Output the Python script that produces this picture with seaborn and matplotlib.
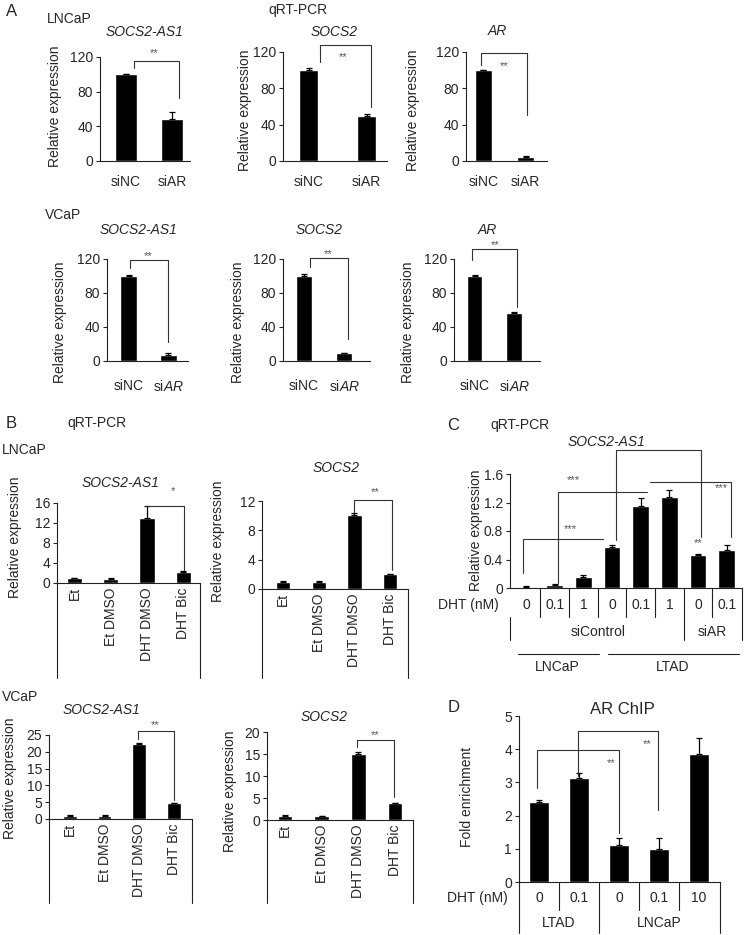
import numpy as np
import pandas as pd
import matplotlib
matplotlib.use("Agg")
import matplotlib.pyplot as plt
from matplotlib.transforms import Bbox, TransformedBbox
import seaborn as sns

W, H = 745, 935
sns.set_style("ticks")
plt.rcParams['font.family'] = ['Liberation Sans', 'DejaVu Sans']
plt.rcParams['mathtext.fontset'] = 'custom'
plt.rcParams['mathtext.rm'] = 'Liberation Sans'
plt.rcParams['mathtext.it'] = 'Liberation Sans:italic'

# ---------------- data ----------------
a_cats = ['siNC', 'siAR']
a_cats_it = ['siNC', r'si$\mathit{AR}$']
a_lncap_socs2as1 = [100, 49];  a_lncap_socs2as1_err = [0.5, 7]
a_lncap_socs2 = [100, 50];     a_lncap_socs2_err = [2.5, 1.5]
a_lncap_ar = [100, 4.5];       a_lncap_ar_err = [0.5, 1]
a_vcap_socs2as1 = [100, 7];    a_vcap_socs2as1_err = [1.5, 2]
a_vcap_socs2 = [100, 9];       a_vcap_socs2_err = [2.5, 1]
a_vcap_ar = [100, 56];         a_vcap_ar_err = [1.5, 1.5]

b_cats = ['Et', 'Et DMSO', 'DHT DMSO', 'DHT Bic']
b_lncap_socs2as1 = [1.0, 0.9, 13.0, 2.3];   b_lncap_socs2as1_err = [0.1, 0.1, 2.4, 0.1]
b_lncap_socs2 = [1.0, 1.0, 10.1, 2.0];      b_lncap_socs2_err = [0.1, 0.1, 0.25, 0.05]
b_vcap_socs2as1 = [1.0, 0.8, 22.3, 4.7];    b_vcap_socs2as1_err = [0.1, 0.3, 0.2, 0.2]
b_vcap_socs2 = [1.0, 0.9, 15.0, 3.8];       b_vcap_socs2_err = [0.1, 0.1, 0.5, 0.1]

c_ids = ['c1', 'c2', 'c3', 'c4', 'c5', 'c6', 'c7', 'c8']
c_dht = ['0', '0.1', '1', '0', '0.1', '1', '0', '0.1']
c_vals = [0.02, 0.04, 0.16, 0.57, 1.15, 1.28, 0.47, 0.53]
c_errs = [0.01, 0.01, 0.02, 0.03, 0.12, 0.10, 0.01, 0.08]

d_ids = ['d1', 'd2', 'd3', 'd4', 'd5']
d_dht = ['0', '0.1', '0', '0.1', '10']
d_vals = [2.4, 3.12, 1.1, 1.0, 3.85]
d_errs = [0.07, 0.15, 0.22, 0.33, 0.48]

fig = plt.figure(figsize=(W / 100, H / 100), dpi=100)
FS = 10
LC = '#222222'
SFS = 8


def add_ax(l, t, r, b):
    return fig.add_axes([l / W, 1 - b / H, (r - l) / W, (b - t) / H])


def ftext(x, y, s, **kw):
    kw.setdefault('fontsize', FS)
    kw.setdefault('ha', 'center')
    kw.setdefault('va', 'center')
    fig.text(x / W, 1 - y / H, s, **kw)


def yfrac(ax, p):
    pos = ax.get_position()
    bot = (1 - pos.y0) * H
    top = (1 - pos.y1) * H
    return (bot - p) / (bot - top)


def bars(ax, cats, vals, errs, width, xlim, ylim, yticks, ticklabels=None):
    df = pd.DataFrame({'cat': cats, 'val': vals})
    sns.barplot(data=df, x='cat', y='val', order=cats, color='black',
                saturation=1, width=width, errorbar=None, ax=ax)
    x = np.arange(len(cats))
    ax.errorbar(x, vals, yerr=[np.zeros(len(vals)), errs], fmt='none',
                ecolor='black', elinewidth=0.9, capsize=2.2, capthick=0.9)
    ax.set_xlim(*xlim)
    ax.set_ylim(*ylim)
    ax.set_yticks(yticks)
    ax.set_xlabel('')
    ax.set_ylabel('')
    sns.despine(ax=ax)
    for s in ['left', 'bottom']:
        ax.spines[s].set_linewidth(0.8)
        ax.spines[s].set_color(LC)
    ax.tick_params(axis='y', labelsize=FS, length=3, width=0.8, direction='out', pad=2)
    ax.tick_params(axis='x', length=0)
    ax.set_yticklabels([('%g' % t) for t in yticks])
    if ticklabels is not None:
        ax.set_xticks(x)
        ax.set_xticklabels(ticklabels, fontsize=FS)
    else:
        ax.set_xticks([])
    return ax


def bracket(ax, x1, x2, y, y1=None, y2=None, star=None, sx=None, sy=None):
    xs, ys = [], []
    if y1 is not None:
        xs.append(x1); ys.append(y1)
    xs += [x1, x2]; ys += [y, y]
    if y2 is not None:
        xs.append(x2); ys.append(y2)
    ax.plot(xs, ys, color='#333333', lw=0.8, clip_on=False)
    if star:
        ax.text(sx, sy, star, ha='center', va='center', fontsize=SFS,
                color='#555555', clip_on=False)


# ---------------- panel A ----------------
ftext(12, 12, 'A', fontsize=12)
ftext(298, 10, 'qRT-PCR')
ftext(47, 19, 'LNCaP', ha='left')
ftext(45, 215, 'VCaP', ha='left')

a_ticks = [0, 40, 80, 120]
ax = add_ax(100, 57, 190, 161)
bars(ax, a_cats, a_lncap_socs2as1, a_lncap_socs2as1_err, 0.47, (-0.56, 1.38), (0, 120), a_ticks, a_cats)
ax.tick_params(axis='x', pad=10)
bracket(ax, 0.17, 1.14, 115.4, 107.3, 72.7, '**', 0.6, 125)
ftext(145, 32, 'SOCS2-AS1', style='italic')
ftext(55, 106, 'Relative expression', rotation=90)

ax = add_ax(283, 52, 387, 161)
bars(ax, a_cats, a_lncap_socs2, a_lncap_socs2_err, 0.33, (-0.44, 1.35), (0, 120), a_ticks, a_cats)
ax.tick_params(axis='x', pad=10)
bracket(ax, 0.19, 1.07, 127.7, 109, 59.5, '**', 0.6, 114)
ftext(334, 32, 'SOCS2', style='italic')
ftext(245, 110, 'Relative expression', rotation=90)

ax = add_ax(466, 52, 547, 161)
bars(ax, a_cats, a_lncap_ar, a_lncap_ar_err, 0.40, (-0.41, 1.5), (0, 120), a_ticks, a_cats)
ax.tick_params(axis='x', pad=10)
bracket(ax, -0.06, 1.03, 119, 105.7, 50.7, '**', 0.5, 105)
ftext(497, 31, 'AR', style='italic')
ftext(413, 110, 'Relative expression', rotation=90)

ax = add_ax(107, 259, 188, 361)
bars(ax, a_cats, a_vcap_socs2as1, a_vcap_socs2as1_err, 0.42, (-0.54, 1.49), (0, 120), a_ticks, a_cats_it)
ax.tick_params(axis='x', pad=13)
bracket(ax, 0.04, 0.99, 118.8, 109.4, 22.4, '**', 0.5, 123)
ftext(139, 230, 'SOCS2-AS1', style='italic')
ftext(60, 322, 'Relative expression', rotation=90)

ax = add_ax(283, 259, 370, 361)
bars(ax, a_cats, a_vcap_socs2, a_vcap_socs2_err, 0.40, (-0.53, 1.65), (0, 120), a_ticks, a_cats_it)
ax.tick_params(axis='x', pad=13)
bracket(ax, 0.15, 1.1, 121, 110.6, 25.9, '**', 0.6, 126)
ftext(319, 230, 'SOCS2', style='italic')
ftext(238, 322, 'Relative expression', rotation=90)

ax = add_ax(454, 259, 540, 361)
bars(ax, a_cats, a_vcap_ar, a_vcap_ar_err, 0.40, (-0.52, 1.66), (0, 120), a_ticks, a_cats_it)
ax.tick_params(axis='x', pad=13)
bracket(ax, -0.06, 1.08, 131.8, 118.8, 63.5, '**', 0.52, 136)
ftext(487, 230, 'AR', style='italic')
ftext(408, 322, 'Relative expression', rotation=90)

# ---------------- panel B ----------------
ftext(11, 423, 'B', fontsize=12)
ftext(67, 423, 'qRT-PCR', ha='left')
ftext(2, 450, 'LNCaP', ha='left')
ftext(2, 697, 'VCaP', ha='left')


def b_table(ax, bottom_px):
    yb = yfrac(ax, bottom_px)
    for xa in (0, 1):
        ax.plot([xa, xa], [0, yb], transform=ax.transAxes, color=LC, lw=0.8, clip_on=False)
    clip = TransformedBbox(Bbox([[0, 1 - bottom_px / H], [1, 1]]), fig.transFigure)
    for lab in ax.get_xticklabels():
        lab.set_rotation(90)
        lab.set_va('top')
        lab.set_ha('center')
        lab.set_clip_box(clip)
        lab.set_clip_on(True)
    ax.tick_params(axis='x', pad=3)


ax = add_ax(57, 503, 200, 583)
bars(ax, b_cats, b_lncap_socs2as1, b_lncap_socs2as1_err, 0.42, (-0.48, 3.46), (0, 16), [0, 4, 8, 12, 16], b_cats)
b_table(ax, 678)
bracket(ax, 1.97, 3.02, 15.4, None, 2.6, '*', 2.71, 18.4)
ftext(121, 483, 'SOCS2-AS1', style='italic')
ftext(15, 537, 'Relative expression', rotation=90)

ax = add_ax(262, 501, 408, 589)
bars(ax, b_cats, b_lncap_socs2, b_lncap_socs2_err, 0.40, (-0.59, 3.5), (0, 12), [0, 4, 8, 12], b_cats)
b_table(ax, 678)
bracket(ax, 1.98, 3.05, 12.1, 10.5, 2.6, '**', 2.58, 13.2)
ftext(336, 468, 'SOCS2', style='italic')
ftext(218, 541, 'Relative expression', rotation=90)

ax = add_ax(49, 735, 192, 819)
bars(ax, b_cats, b_vcap_socs2as1, b_vcap_socs2as1_err, 0.40, (-0.6, 3.52), (0, 25), [0, 5, 10, 15, 20, 25], b_cats)
b_table(ax, 903)
bracket(ax, 1.96, 3.0, 26.2, 23.7, 5.65, '**', 2.45, 28.0)
ftext(102, 710, 'SOCS2-AS1', style='italic')
ftext(10, 778, 'Relative expression', rotation=90)

ax = add_ax(267, 732, 413, 820)
bars(ax, b_cats, b_vcap_socs2, b_vcap_socs2_err, 0.40, (-0.49, 3.49), (0, 20), [0, 5, 10, 15, 20], b_cats)
b_table(ax, 903)
bracket(ax, 1.96, 2.97, 18.2, 16.6, 5.2, '**', 2.45, 19.3)
ftext(324, 717, 'SOCS2', style='italic')
ftext(230, 791, 'Relative expression', rotation=90)

# ---------------- panel C ----------------
ftext(453, 425, 'C', fontsize=12)
ftext(490, 425, 'qRT-PCR', ha='left')
ftext(607, 442, 'SOCS2-AS1', style='italic')
ax = add_ax(510, 474, 742, 588)
bars(ax, c_ids, c_vals, c_errs, 0.58, (-0.56, 7.53), (0, 1.6), [0, 0.4, 0.8, 1.2, 1.6])
ax.set_yticklabels(['0', '0.4', '0.8', '1.2', '1.6'])
ftext(476, 530, 'Relative expression', rotation=90)
xt = ax.get_xaxis_transform()
y_r1, y_r1b, y_r2, y_r2b, y_r3, y_r3t = [yfrac(ax, p) for p in (605, 617, 632, 640, 654, 667)]
for i, lab in enumerate(c_dht):
    ax.text(i, y_r1, lab, transform=xt, ha='center', va='center', fontsize=FS)
for xb in [0.5, 1.5, 2.5, 3.5, 4.5, 6.5]:
    ax.plot([xb, xb], [0, y_r1b], transform=xt, color=LC, lw=0.8, clip_on=False)
ax.plot([5.5, 5.5], [0, y_r2b], transform=xt, color=LC, lw=0.8, clip_on=False)
ax.plot([1, 1], [0, y_r2b], transform=ax.transAxes, color=LC, lw=0.8, clip_on=False)
ax.plot([0, 0], [y_r1b, y_r2b], transform=ax.transAxes, color=LC, lw=0.8, clip_on=False)
ax.text(2.5, y_r2, 'siControl', transform=xt, ha='center', va='center', fontsize=FS)
ax.text(6.5, y_r2, 'siAR', transform=xt, ha='center', va='center', fontsize=FS)
ax.plot([-0.28, 2.54], [y_r3, y_r3], transform=xt, color=LC, lw=0.8, clip_on=False)
ax.plot([2.85, 7.44], [y_r3, y_r3], transform=xt, color=LC, lw=0.8, clip_on=False)
ax.text(1.1, y_r3t, 'LNCaP', transform=xt, ha='center', va='center', fontsize=FS)
ax.text(5.1, y_r3t, 'LTAD', transform=xt, ha='center', va='center', fontsize=FS)
ftext(468, 605, 'DHT (nM)')
bracket(ax, -0.12, 2.7, 0.69, 0.21, None, '***', 1.55, 0.83)
bracket(ax, 1.10, 4.2, 1.35, 0.07, None, '***', 1.66, 1.52)
bracket(ax, 3.15, 6.11, 1.94, 0.67, 0.72)
bracket(ax, 4.33, 7.15, 1.49, None, 0.72, '***', 6.8, 1.40)
ax.text(6.0, 0.63, '**', ha='center', va='center', fontsize=SFS, color='#555555')

# ---------------- panel D ----------------
ftext(454, 707, 'D', fontsize=12)
ftext(622, 710, 'AR ChIP', fontsize=12)
ax = add_ax(519, 716, 720, 882)
bars(ax, d_ids, d_vals, d_errs, 0.52, (-0.5, 4.525), (0, 5), [0, 1, 2, 3, 4, 5])
ftext(467, 797, 'Fold enrichment', rotation=90)
xt = ax.get_xaxis_transform()
y_r1, y_r1b, y_r2, y_r2b = [yfrac(ax, p) for p in (898, 910, 923, 933)]
for i, lab in enumerate(d_dht):
    ax.text(i, y_r1, lab, transform=xt, ha='center', va='center', fontsize=FS)
for xb in [0.5, 2.5, 3.5]:
    ax.plot([xb, xb], [0, y_r1b], transform=xt, color=LC, lw=0.8, clip_on=False)
ax.plot([1.5, 1.5], [0, y_r2b], transform=xt, color=LC, lw=0.8, clip_on=False)
for xa in (0, 1):
    ax.plot([xa, xa], [0, y_r2b], transform=ax.transAxes, color=LC, lw=0.8, clip_on=False)
ax.text(0.5, y_r2, 'LTAD', transform=xt, ha='center', va='center', fontsize=FS)
ax.text(3.0, y_r2, 'LNCaP', transform=xt, ha='center', va='center', fontsize=FS)
ftext(477, 898, 'DHT (nM)')
bracket(ax, -0.05, 2.0, 3.98, 2.83, 1.48, '**', 1.8, 3.58)
bracket(ax, 0.975, 2.975, 4.55, 3.19, 2.17, '**', 2.7, 4.16)

fig.savefig('out.png', dpi=100)
